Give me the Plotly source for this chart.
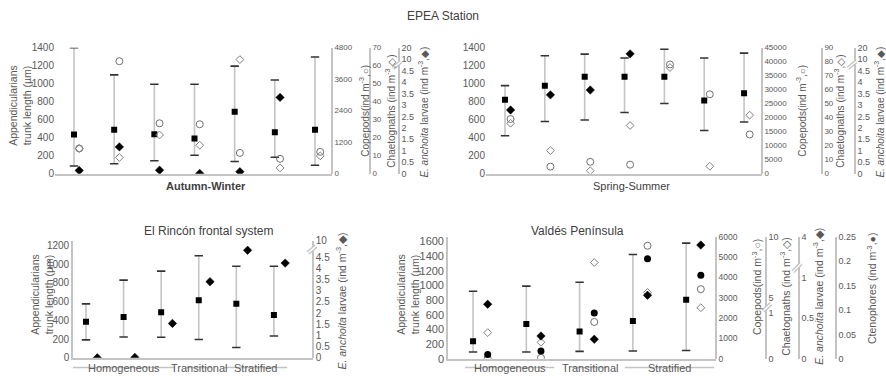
import numpy as np
import plotly.graph_objects as go

# ---------------- data ----------------
# EPEA Station, Autumn-Winter (7 samples)
aw_app_mean = [434, 488, 438, 391, 689, 460, 488]
aw_app_min = [86, 111, 144, 205, 136, 183, 93]
aw_app_max = [1400, 1098, 994, 994, 1195, 1041, 1296]
aw_copepods = [960, 4284, 1920, 1883, 790, 566, 830]
aw_chaetognaths = [14, 9.0, 21.5, 15.8, 63.4, 3.2, 9.9]
aw_anchoita = [0.14, 1.17, 0.155, 0.01, 0.085, 3.33, None]

# EPEA Station, Spring-Summer (7 samples)
ss_app_mean = [821, 978, 1078, 1078, 1078, 814, 893]
ss_app_min = [421, 579, 596, 679, 779, 479, 575]
ss_app_max = [978, 1311, 1328, 1286, 1382, 1286, 1339]
ss_copepods = [19516, 2526, 4248, 3214, 39000, 28356, 14006]
ss_chaetognaths = [36.0, 16.5, 2.1, 34.4, 75.8, 5.3, 41.8]
ss_anchoita = [2.78, 3.44, 3.65, 14.6, None, None, None]

# El Rincón frontal system (6 samples)
rincon_app_mean = [384, 435, 487, 614, 576, 456]
rincon_app_min = [192, 223, 219, 195, 110, 233]
rincon_app_max = [576, 830, 926, 1090, 977, 977]
rincon_anchoita = [0.0, 0.02, 1.54, 3.41, 6.8, 4.24]
rincon_groups = ["Homogeneous", "Transitional", "Stratified"]
rincon_group_sizes = [3, 1, 2]

# Valdés Península (5 samples)
valdes_app_mean = [238, 476, 374, 516, 806]
valdes_app_min = [92, 92, 101, 106, 114]
valdes_app_max = [921, 991, 1044, 1423, 1578]
valdes_copepods = [20, 50, 1810, 5554, 3422]
valdes_chaetognaths = [0.57, 0.36, 7.9, 5.47, 2.4]
valdes_anchoita = [0.67, 0.28, 0.24, 0.78, 3.38]
valdes_ctenophores = [0.009, 0.016, 0.094, 0.205, 0.171]
valdes_groups = ["Homogeneous", "Transitional", "Stratified"]
valdes_group_sizes = [2, 1, 2]

# broken-axis scales (value breakpoints -> displayed position)
epea_anch_vals, epea_anch_pos = [0, 4.5, 10, 20], [0, 4.5, 5.0, 5.5]
rincon_anch_vals, rincon_anch_pos = [0, 4.5, 10], [0, 4.5, 5.25]
valdes_chaet_vals, valdes_chaet_pos = [0, 1, 5, 10], [0, 1, 1.32, 2.66]
valdes_anch_vals, valdes_anch_pos = [0, 1, 4], [0, 1, 1.5]

# ---------------- styling ----------------
FONT = "Arial, 'Liberation Sans', sans-serif"
TXT = "#595959"
LINE = "#c4c4c4"
W, H = 886, 390


def px(x):
    return x / W


def py(y):
    return 1 - y / H


def scale(vals, bp_vals, bp_pos):
    return [None if v is None else float(np.interp(v, bp_vals, bp_pos)) for v in vals]


fig = go.Figure()


def app_traces(xa, ya, mean, lo, hi):
    idx = list(range(len(mean)))
    fig.add_trace(go.Scatter(
        x=idx, y=mean, xaxis=xa, yaxis=ya, mode="markers",
        marker=dict(symbol="square", size=6, color="black"),
        error_y=dict(type="data", symmetric=False,
                     array=[h - m for h, m in zip(hi, mean)],
                     arrayminus=[m - l for m, l in zip(mean, lo)],
                     color=LINE, thickness=1.6, width=0),
        showlegend=False, hoverinfo="skip"))
    fig.add_trace(go.Scatter(
        x=idx + idx, y=list(lo) + list(hi), xaxis=xa, yaxis=ya, mode="markers",
        marker=dict(symbol="line-ew", size=6, line=dict(width=1.6, color="#333333")),
        showlegend=False, hoverinfo="skip"))


def pts(xa, ya, vals, off, kind):
    styles = {
        "cop": dict(symbol="circle-open", size=7, color="#707070", line=dict(width=1)),
        "cha": dict(symbol="diamond-open", size=6, color="#808080", line=dict(width=1)),
        "anc": dict(symbol="diamond", size=6.5, color="black", line=dict(width=0.5, color="black")),
        "cte": dict(symbol="circle", size=7, color="black"),
    }
    fig.add_trace(go.Scatter(
        x=[i + off for i in range(len(vals))], y=vals, xaxis=xa, yaxis=ya,
        mode="markers", marker=styles[kind], showlegend=False, hoverinfo="skip"))


# Panel A: EPEA Autumn-Winter
app_traces("x", "y", aw_app_mean, aw_app_min, aw_app_max)
pts("x", "y2", aw_copepods, 0.13, "cop")
pts("x", "y3", aw_chaetognaths, 0.13, "cha")
pts("x", "y4", scale(aw_anchoita, epea_anch_vals, epea_anch_pos), 0.13, "anc")

# Panel B: EPEA Spring-Summer
app_traces("x2", "y5", ss_app_mean, ss_app_min, ss_app_max)
pts("x2", "y6", ss_copepods, 0.14, "cop")
pts("x2", "y7", ss_chaetognaths, 0.14, "cha")
pts("x2", "y8", scale(ss_anchoita, epea_anch_vals, epea_anch_pos), 0.14, "anc")

# Panel C: El Rincón
app_traces("x3", "y9", rincon_app_mean, rincon_app_min, rincon_app_max)
pts("x3", "y10", scale(rincon_anchoita, rincon_anch_vals, rincon_anch_pos), 0.3, "anc")

# Panel D: Valdés
app_traces("x4", "y11", valdes_app_mean, valdes_app_min, valdes_app_max)
pts("x4", "y12", valdes_copepods, 0.275, "cop")
pts("x4", "y13", scale(valdes_chaetognaths, valdes_chaet_vals, valdes_chaet_pos), 0.275, "cha")
pts("x4", "y14", scale(valdes_anchoita, valdes_anch_vals, valdes_anch_pos), 0.275, "anc")
pts("x4", "y15", valdes_ctenophores, 0.275, "cte")

# ---------------- axes ----------------
domA_x, domB_x = [px(55), px(332)], [px(486), px(762)]
dom_top_y = [py(173), py(43)]
domC_x, domC_y = [px(73), px(313)], [py(363), py(242)]
domD_x, domD_y = [px(448), px(716)], [py(364), py(238)]

APP_T = "Appendicularians<br>trunk length (µm)"
COP_T = "Copepods(ind m<sup>-3</sup>,○)"
CHA_T = "Chaetognaths (ind m<sup>-3</sup>,◇)"
ANC_T = "<i>E. anchoita</i> larvae (ind m<sup>-3</sup>,◆)"
CTE_T = "Ctenophores (ind m<sup>-3</sup>,●)"


def xax(domain, rng, anchor):
    return dict(domain=domain, range=rng, anchor=anchor, showline=True, linecolor=LINE,
                linewidth=1.6, showticklabels=False, ticks="", showgrid=False, zeroline=False)


def yleft(domain, rng, tickvals, anchor, size, line):
    return dict(domain=domain, range=rng, anchor=anchor, tickvals=tickvals,
                showline=line, linecolor=LINE, linewidth=1.6, ticks="", showgrid=False,
                zeroline=False, tickfont=dict(size=size, color=TXT), tickformat="d")


def yright(over, pos, rng, tickvals, ticktext, size):
    d = dict(overlaying=over, anchor="free", position=pos, side="right", range=rng,
             tickvals=tickvals, showline=True, linecolor=LINE, linewidth=1.6, ticks="",
             showgrid=False, zeroline=False, tickfont=dict(size=size, color=TXT))
    if ticktext is not None:
        d["ticktext"] = ticktext
    else:
        d["tickformat"] = "~g" if rng[1] < 1 else "d"
    return d


def steps(a, b, s):
    return list(np.round(np.arange(a, b + s / 2, s), 4))


epea_anch_ticks = steps(0, 4.5, 0.5) + [5.0, 5.5]
epea_anch_text = [f"{v:g}" for v in steps(0, 4.5, 0.5)] + ["10", "20"]
rincon_anch_ticks = steps(0, 4.5, 0.5) + [5.25]
rincon_anch_text = [f"{v:g}" for v in steps(0, 4.5, 0.5)] + ["10"]

fig.update_layout(
    xaxis=xax(domA_x, [-0.473, 6.423], "y"),
    yaxis=yleft(dom_top_y, [0, 1400], steps(0, 1400, 200), "x", 10, False),
    yaxis2=yright("y", px(332), [0, 4800], steps(0, 4800, 1200), None, 8),
    yaxis3=yright("y", px(370), [0, 70], steps(0, 70, 10), None, 8),
    yaxis4=yright("y", px(399), [0, 5.5], epea_anch_ticks, epea_anch_text, 9),

    xaxis2=xax(domB_x, [-0.477, 6.45], "y5"),
    yaxis5=yleft(dom_top_y, [0, 1400], steps(0, 1400, 200), "x2", 10, False),
    yaxis6=yright("y5", px(762), [0, 45000], steps(0, 45000, 5000), None, 8),
    yaxis7=yright("y5", px(822), [0, 90], steps(0, 90, 10), None, 8),
    yaxis8=yright("y5", px(855), [0, 5.5], epea_anch_ticks, epea_anch_text, 9),

    xaxis3=xax(domC_x, [-0.346, 6.04], "y9"),
    yaxis9=yleft(domC_y, [0, 1252], steps(0, 1200, 200), "x3", 10, True),
    yaxis10=yright("y9", px(313), [0, 5.25], rincon_anch_ticks, rincon_anch_text, 10),

    xaxis4=xax(domD_x, [-0.47, 4.56], "y11"),
    yaxis11=yleft(domD_y, [0, 1666], steps(0, 1600, 200), "x4", 11, True),
    yaxis12=yright("y11", px(716), [0, 6000], steps(0, 6000, 1000), None, 8.5),
    yaxis13=yright("y11", px(766), [0, 2.66], [0, 1, 1.32, 2.66], ["0", "1", "5", "10"], 9),
    yaxis14=yright("y11", px(799), [0, 1.5], [0, 0.5, 1, 1.5], ["0", "0.5", "1", "4"], 9),
    yaxis15=yright("y11", px(836), [0, 0.25], steps(0, 0.25, 0.05), None, 9),
)

# ---------------- titles / labels ----------------
ann = [
    dict(text="EPEA Station", x=px(443), y=py(10), size=12),
    dict(text="<b>Autumn-Winter</b>", x=px(206), y=py(186), size=11),
    dict(text="Spring-Summer", x=px(631), y=py(186), size=11),
    dict(text="El Rincón frontal system", x=px(208), y=py(232), size=12),
    dict(text="Valdés Península", x=px(577), y=py(232), size=12),
]
for a in ann:
    fig.add_annotation(text=a["text"], x=a["x"], y=a["y"], xref="paper", yref="paper",
                       showarrow=False, xanchor="center", yanchor="middle",
                       font=dict(size=a["size"], color="#404040"))

# rotated axis titles
axis_titles = [
    (APP_T, 20, 103, 10.5), (COP_T, 364, 108, 10), (CHA_T, 390, 109, 10), (ANC_T, 423, 110, 10),
    (COP_T, 801, 108, 10), (CHA_T, 839, 109, 10), (ANC_T, 879, 110, 10),
    (APP_T, 42, 298, 10.5), (ANC_T, 341, 305, 10.5),
    (APP_T, 408, 298, 10.5), (COP_T, 756, 290, 10.5), (CHA_T, 785, 300, 10.5),
    (ANC_T, 818, 300, 10.5), (CTE_T, 871, 291, 10.5),
]
for text, x, y, s in axis_titles:
    fig.add_annotation(text=text, x=px(x), y=py(y), xref="paper", yref="paper",
                       showarrow=False, textangle=-90, xanchor="center", yanchor="middle",
                       font=dict(size=s, color=TXT))


def groups(xa, names, sizes, lpad, rpad):
    start = 0
    for name, n in zip(names, sizes):
        a, b = start - lpad, start + n - 1 + rpad
        fig.add_shape(type="line", xref=xa, yref="paper", x0=a, x1=b, y0=py(373), y1=py(373),
                      line=dict(color=LINE, width=1.5))
        fig.add_annotation(text=name, x=(a + b) / 2, y=py(382), xref=xa, yref="paper",
                           showarrow=False, font=dict(size=11, color=TXT))
        start += n


groups("x3", rincon_groups, rincon_group_sizes, 0.35, 0.35)
groups("x4", valdes_groups, valdes_group_sizes, 0.15, 0.525)


# break marks on broken axes
def brk(xpos, yref, ymid, dy):
    for w, c in [(4, LINE), (1.4, "white")]:
        fig.add_shape(type="line", xref="paper", yref=yref,
                      x0=xpos - px(4), x1=xpos + px(4), y0=ymid - dy, y1=ymid + dy,
                      line=dict(color=c, width=w))


brk(px(397), "y4", 4.75, 0.15)
brk(px(852), "y8", 4.75, 0.15)
brk(px(312), "y10", 4.85, 0.15)
brk(px(767), "y13", 1.12, 0.08)
brk(px(797), "y14", 1.12, 0.05)

fig.update_layout(
    width=W, height=H, margin=dict(l=0, r=0, t=0, b=0),
    paper_bgcolor="white", plot_bgcolor="white",
    font=dict(family=FONT, color=TXT), showlegend=False,
)

fig.write_html("out.html", config={"displayModeBar": False},
               post_script="document.body.style.margin='0px';")
